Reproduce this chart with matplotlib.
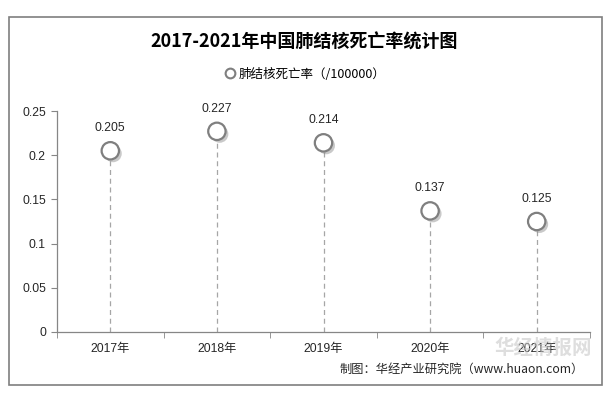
import matplotlib.pyplot as plt
import matplotlib.patheffects as pe
from matplotlib.patches import Rectangle
from matplotlib.lines import Line2D

plt.rcParams['font.family'] = ['Liberation Sans', 'Noto Sans CJK SC']

years = ['2017年', '2018年', '2019年', '2020年', '2021年']
rates = [0.205, 0.227, 0.214, 0.137, 0.125]
yticks = [0, 0.05, 0.1, 0.15, 0.2, 0.25]
ytick_labels = ['0', '0.05', '0.1', '0.15', '0.2', '0.25']

fig = plt.figure(figsize=(6.08, 3.97), dpi=100)
ax = fig.add_axes([57/608, 1-332/397, (590-57)/608, (332-111)/397])

# outer frame
fig.patches.append(Rectangle((9/608, 1-385/397), 593/608, 368/397, transform=fig.transFigure,
                             fill=False, edgecolor='#7f7f7f', linewidth=1.2))

x = list(range(len(years)))
ax.vlines(x, 0, rates, colors='#a6a6a6', linestyles=(0, (4, 3)), linewidth=0.9)
ax.plot(x, rates, linestyle='none', marker='o', markersize=12.5, markerfacecolor='white',
        markeredgecolor='#7f7f7f', markeredgewidth=1.6, zorder=3,
        path_effects=[pe.SimplePatchShadow(offset=(2, -2), shadow_rgbFace='#888888', alpha=0.45),
                      pe.Normal()])
for xi, v in zip(x, rates):
    ax.annotate('%g' % v, (xi, v), xytext=(0, 12), textcoords='offset points',
                ha='center', va='bottom', fontsize=8.8, color='#262626')

ax.set_xlim(-0.5, len(years) - 0.5)
ax.set_ylim(0, 0.25)
ax.set_yticks(yticks)
ax.set_yticklabels(ytick_labels)
ax.set_xticks(x)
ax.set_xticklabels(years)
ax.set_xticks([i - 0.5 for i in range(len(years) + 1)], minor=True)
ax.tick_params(axis='x', which='major', length=0, pad=8, labelsize=8.8, labelcolor='#262626')
ax.tick_params(axis='x', which='minor', length=4, color='#868686', direction='out')
ax.tick_params(axis='y', length=4, color='#868686', labelsize=8.8, labelcolor='#262626', pad=4)
for s in ['top', 'right']:
    ax.spines[s].set_visible(False)
for s in ['left', 'bottom']:
    ax.spines[s].set_color('#868686')
    ax.spines[s].set_linewidth(0.9)

fig.text(0.5, 1-42/397, '2017-2021年中国肺结核死亡率统计图', ha='center', va='center',
         fontsize=13, fontweight='bold', family=['Noto Sans CJK SC'], color='#000000')

# legend
handle = Line2D([], [], linestyle='none', marker='o', markersize=7, markerfacecolor='white',
                markeredgecolor='#7f7f7f', markeredgewidth=1.5)
fig.legend([handle], ['肺结核死亡率（/100000）'], loc='center', bbox_to_anchor=(0.5, 1-74/397),
           frameon=False, handletextpad=0.1, handlelength=1.2,
           prop={'family': ['Noto Sans CJK SC'], 'size': 9})

fig.text(584/608, 1-369/397, '制图：华经产业研究院（www.huaon.com）', ha='right', va='center',
         fontsize=8.8, family=['Noto Sans CJK SC'], color='#262626')
fig.text(592/608, 1-348/397, '华经情报网', ha='right', va='center', fontsize=14, fontweight='bold',
         family=['Noto Sans CJK SC'], color='#c8c8c8', alpha=0.6, zorder=0)

fig.savefig('out.png', dpi=100)
